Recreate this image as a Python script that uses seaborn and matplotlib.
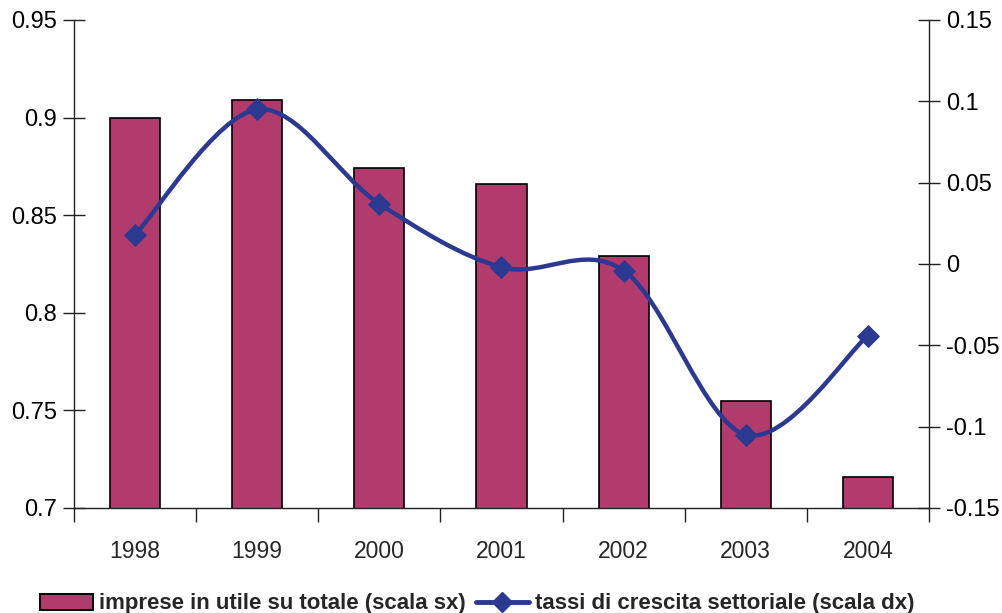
import numpy as np
import pandas as pd
import matplotlib
matplotlib.use("Agg")
import matplotlib.pyplot as plt
from matplotlib.path import Path
from matplotlib.patches import PathPatch, Patch
from matplotlib.lines import Line2D
from matplotlib.ticker import FixedLocator
import seaborn as sns

# data
years = ["1998", "1999", "2000", "2001", "2002", "2003", "2004"]
imprese_utile = [0.900, 0.909, 0.874, 0.866, 0.829, 0.755, 0.716]
tassi_crescita = [0.018, 0.095, 0.037, -0.002, -0.004, -0.105, -0.044]

left_ticks = [0.7, 0.75, 0.8, 0.85, 0.9, 0.95]
left_labels = ["0.7", "0.75", "0.8", "0.85", "0.9", "0.95"]
right_ticks = [-0.15, -0.1, -0.05, 0, 0.05, 0.1, 0.15]
right_labels = ["-0.15", "-0.1", "-0.05", "0", "0.05", "0.1", "0.15"]

bar_label = "imprese in utile su totale (scala sx)"
line_label = "tassi di crescita settoriale (scala dx)"

BAR_COLOR = "#B23B6E"
LINE_COLOR = "#2B3990"

sns.set_style("ticks")
plt.rcParams["font.family"] = ["Liberation Sans", "DejaVu Sans"]

df = pd.DataFrame({"anno": years, "utile": imprese_utile, "tassi": tassi_crescita})

fig = plt.figure(figsize=(10.03, 6.13), dpi=100)
ax = fig.add_axes([74 / 1003, 105 / 613, 855 / 1003, 488 / 613])

sns.barplot(data=df, x="anno", y="utile", ax=ax, color=BAR_COLOR,
            saturation=1, width=0.41, edgecolor="black", linewidth=1.2)
ax.set_ylim(0.7, 0.95)
ax.set_xlim(-0.5, len(years) - 0.5)
ax.set_xlabel("")
ax.set_ylabel("")
ax.set_yticks(left_ticks)
ax.set_yticklabels(left_labels)

ax2 = ax.twinx()
ax2.set_ylim(-0.15, 0.15)
ax2.set_yticks(right_ticks)
ax2.set_yticklabels(right_labels)

# smoothed line (Catmull-Rom style bezier through the points, like Excel)
xs = np.arange(len(years), dtype=float)
ys = np.array(tassi_crescita)
pts = np.column_stack([xs, ys])
ext = np.vstack([pts[0], pts, pts[-1]])
verts = [tuple(pts[0])]
codes = [Path.MOVETO]
for i in range(len(pts) - 1):
    p0, p1, p2, p3 = ext[i], ext[i + 1], ext[i + 2], ext[i + 3]
    c1 = p1 + (p2 - p0) / 6
    c2 = p2 - (p3 - p1) / 6
    verts += [tuple(c1), tuple(c2), tuple(p2)]
    codes += [Path.CURVE4] * 3
ax2.add_patch(PathPatch(Path(verts, codes), facecolor="none",
                        edgecolor=LINE_COLOR, linewidth=3.2, zorder=3))
sns.scatterplot(x=xs, y=ys, ax=ax2, marker="D", s=120, color=LINE_COLOR,
                edgecolor=LINE_COLOR, zorder=4, legend=False)
ax2.set_xlim(-0.5, len(years) - 0.5)

# spines / ticks
for a in (ax, ax2):
    a.spines["top"].set_visible(False)
    for s in a.spines.values():
        s.set_color("#222222")
        s.set_linewidth(1.0)
ax.spines["right"].set_visible(False)
ax2.spines["left"].set_visible(False)
ax2.spines["bottom"].set_visible(False)

ax.tick_params(axis="y", direction="inout", length=16, width=1, labelsize=17,
               pad=4, colors="#222222", labelcolor="black")
ax2.tick_params(axis="y", direction="inout", length=16, width=1, labelsize=17,
                pad=4, colors="#222222", labelcolor="black")
ax.tick_params(axis="x", which="major", length=0, labelsize=16.5, pad=23)
ax.xaxis.set_minor_locator(FixedLocator(np.arange(-0.5, len(years), 1.0)))
ax.tick_params(axis="x", which="minor", direction="out", length=10, width=1,
               colors="#222222")

handles = [
    Patch(facecolor=BAR_COLOR, edgecolor="black", linewidth=1.4),
    Line2D([0], [0], color=LINE_COLOR, linewidth=3.5, marker="D",
           markersize=10, markerfacecolor=LINE_COLOR),
]
fig.legend(handles, [bar_label, line_label], loc="center left",
           bbox_to_anchor=(40 / 1003, 1 - 604 / 613), ncol=2, frameon=False,
           borderpad=0, borderaxespad=0,
           prop={"weight": "bold", "size": 16}, handlelength=2.4,
           handleheight=0.7, handletextpad=0.25, columnspacing=0.45)

fig.savefig("out.png", dpi=100)
